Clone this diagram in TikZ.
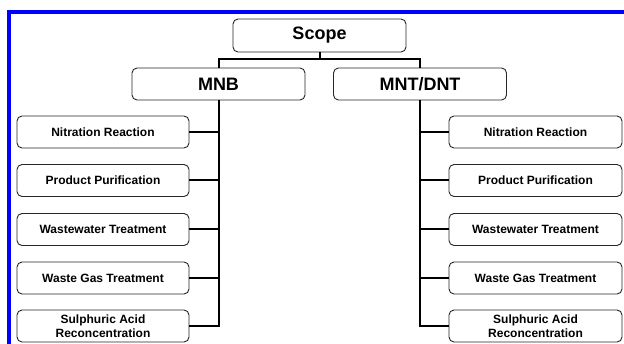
\documentclass[tikz,border=0pt]{standalone}
\usepackage{fontspec}
\setmainfont{Liberation Sans}
\definecolor{frameblue}{RGB}{0,0,255}
\tikzset{
  box/.style={draw=black!85, line width=0.9pt, rounded corners=5pt, fill=white,
    inner sep=0pt, align=center},
  bigbox/.style={box, font=\bfseries\fontsize{18}{21}\selectfont, minimum width=173pt, minimum height=33pt},
  smallbox/.style={box, font=\bfseries\fontsize{12}{14}\selectfont, minimum width=172pt, minimum height=32pt},
  conn/.style={draw=black, line width=2pt},
}
\begin{document}
\begin{tikzpicture}[x=1pt,y=-1pt]
\useasboundingbox (0,0) rectangle (624,344);
\fill[white] (0,0) rectangle (624,344);
\draw[frameblue, line width=4pt] (9,346) -- (9,12) -- (626,12);

\node[bigbox] (scope) at (319.5,35.5) {Scope};
\node[bigbox, minimum height=32pt] (mnb) at (218.5,84) {MNB};
\node[bigbox, minimum height=32pt] (mnt) at (420,84) {MNT/DNT};

\node[smallbox] (l1) at (103,132) {Nitration Reaction};
\node[smallbox] (l2) at (103,180.5) {Product Purification};
\node[smallbox] (l3) at (103,229.5) {Wastewater Treatment};
\node[smallbox] (l4) at (103,278) {Waste Gas Treatment};
\node[smallbox] (l5) at (103,326) {Sulphuric Acid\\Reconcentration};

\node[smallbox, minimum width=173pt] (r1) at (535.5,132) {Nitration Reaction};
\node[smallbox, minimum width=173pt] (r2) at (535.5,180.5) {Product Purification};
\node[smallbox, minimum width=173pt] (r3) at (535.5,229.5) {Wastewater Treatment};
\node[smallbox, minimum width=173pt] (r4) at (535.5,278) {Waste Gas Treatment};
\node[smallbox, minimum width=173pt] (r5) at (535.5,326) {Sulphuric Acid\\Reconcentration};

\coordinate (j) at (319.5,59);
\draw[conn] (scope.south) -- (j);
\draw[conn] (mnb.north) |- (j) -| (mnt.north);

\draw[conn] (mnb.south) -- (mnb.south |- l5.east) -- (l5.east);
\foreach \n in {l1,l2,l3,l4} \draw[conn] (\n.east) -- (mnb.south |- \n.east);

\draw[conn] (mnt.south) -- (mnt.south |- r5.west) -- (r5.west);
\foreach \n in {r1,r2,r3,r4} \draw[conn] (\n.west) -- (mnt.south |- \n.west);
\end{tikzpicture}
\end{document}
